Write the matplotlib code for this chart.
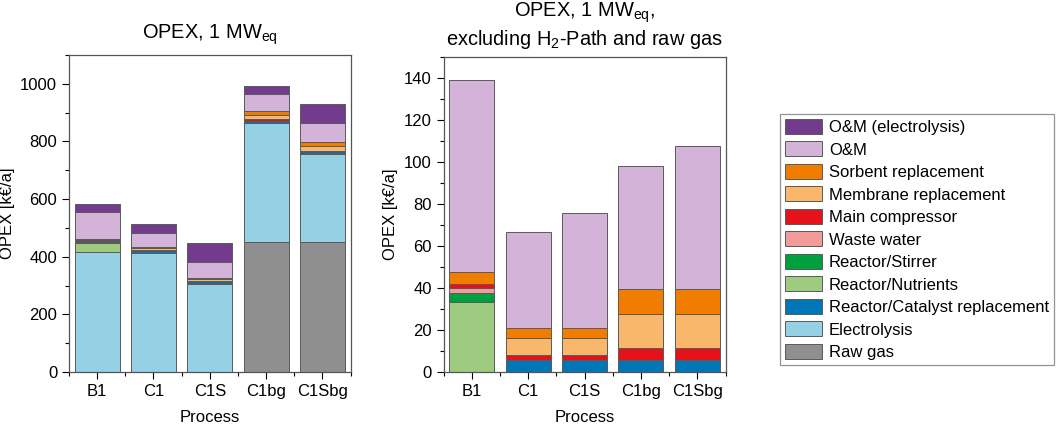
import numpy as np
import matplotlib
matplotlib.use("Agg")
import matplotlib.pyplot as plt
from matplotlib.ticker import MultipleLocator

plt.rcParams['font.family'] = ['Liberation Sans', 'DejaVu Sans']
plt.rcParams['mathtext.default'] = 'regular'
plt.rcParams['font.size'] = 12

# datos (k€/a)
procesos = ['B1', 'C1', 'C1S', 'C1bg', 'C1Sbg']
raw_gas = [0, 0, 0, 452, 452]
electrolysis = [415, 414, 306, 413, 305]
catalyst = [0, 6.0, 6.0, 6.0, 6.0]
nutrients = [33.3, 0, 0, 0, 0]
stirrer = [4.4, 0, 0, 0, 0]
waste_water = [2.6, 0, 0, 0, 0]
compressor = [1.8, 2.4, 2.4, 5.4, 5.4]
membrane = [0, 8.1, 8.1, 16.4, 16.4]
sorbent = [5.5, 4.6, 4.6, 11.7, 11.7]
om = [91.5, 45.7, 54.6, 58.8, 68.0]
om_electrolysis = [30, 31, 65, 30, 65]

# orden de apilado (de abajo hacia arriba)
capas = [
    ('Raw gas', raw_gas, '#8f8f8f'),
    ('Electrolysis', electrolysis, '#95d0e5'),
    ('Reactor/Catalyst replacement', catalyst, '#0076b6'),
    ('Reactor/Nutrients', nutrients, '#9ecb80'),
    ('Reactor/Stirrer', stirrer, '#00a03e'),
    ('Waste water', waste_water, '#f39a9a'),
    ('Main compressor', compressor, '#e3121b'),
    ('Membrane replacement', membrane, '#f8b76a'),
    ('Sorbent replacement', sorbent, '#f07c00'),
    ('O&M', om, '#d3b3d7'),
    ('O&M (electrolysis)', om_electrolysis, '#723b8e'),
]
excluir_derecha = ['Raw gas', 'Electrolysis', 'O&M (electrolysis)']

fig = plt.figure(figsize=(10.59, 4.26), dpi=100)
ax1 = fig.add_axes([0.0652, 0.1268, 0.2658, 0.7441])
ax2 = fig.add_axes([0.4188, 0.1261, 0.2663, 0.7400])

x = np.arange(1, len(procesos) + 1)
handles = []
for ax, derecha in [(ax1, False), (ax2, True)]:
    base = np.zeros(len(procesos))
    for nombre, valores, color in capas:
        if derecha and nombre in excluir_derecha:
            continue
        v = np.array(valores, dtype=float)
        b = ax.bar(x, v, 0.8, bottom=base, color=color, edgecolor='#5a5a5a',
                   linewidth=0.7, label=nombre)
        if not derecha:
            handles.append(b)
        base += v

    ax.set_xlim(0.5, 5.5)
    ax.set_xticks(x)
    ax.set_xticklabels(procesos)
    ax.xaxis.set_minor_locator(MultipleLocator(0.5))
    ax.tick_params(which='both', direction='out', top=False, right=False)
    ax.tick_params(which='major', length=5, width=0.8)
    ax.tick_params(which='minor', length=3, width=0.8)
    ax.set_xlabel('Process', labelpad=8)
    ax.set_ylabel('OPEX [k€/a]')
    for s in ax.spines.values():
        s.set_color('#555555')
        s.set_linewidth(0.9)

ax1.set_ylim(0, 1100)
ax1.yaxis.set_major_locator(MultipleLocator(200))
ax1.yaxis.set_minor_locator(MultipleLocator(100))
ax1.set_title('OPEX, 1 MW$_{eq}$', pad=12)

ax2.set_ylim(0, 150)
ax2.yaxis.set_major_locator(MultipleLocator(20))
ax2.yaxis.set_minor_locator(MultipleLocator(10))
ax2.set_title('OPEX, 1 MW$_{eq}$,\nexcluding H$_2$-Path and raw gas', pad=9,
              linespacing=1.15)

leg = fig.legend(handles[::-1], [h.get_label() for h in handles[::-1]],
                 loc='upper left', bbox_to_anchor=(0.7365, 0.7324),
                 frameon=True, fancybox=False, edgecolor='#7a7a7a',
                 handlelength=2.25, handleheight=1.0, labelspacing=0.38,
                 handletextpad=0.4, borderpad=0.3, borderaxespad=0.0,
                 fontsize=12)
leg.get_frame().set_linewidth(0.9)

fig.savefig('out.png', dpi=100)
